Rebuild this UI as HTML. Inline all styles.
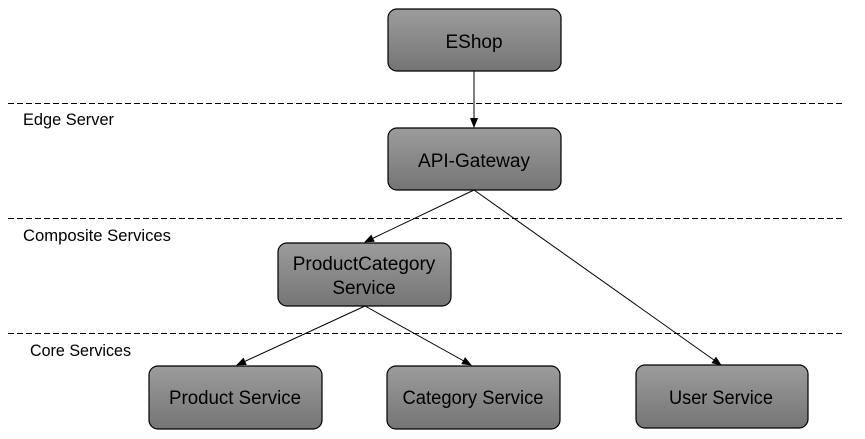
<!DOCTYPE html>
<html><head><meta charset="utf-8"><style>
html,body{margin:0;padding:0;background:#fff;width:865px;height:439px;overflow:hidden}
text{font-family:"Liberation Sans",sans-serif;fill:#000}
</style></head><body>
<svg width="865" height="439" viewBox="0 0 865 439" xmlns="http://www.w3.org/2000/svg">
<defs>
<linearGradient id="g" x1="0" y1="0" x2="0" y2="1">
<stop offset="0" stop-color="#9c9c9c"/><stop offset="1" stop-color="#757575"/>
</linearGradient>
<marker id="a" markerWidth="10" markerHeight="8" refX="9" refY="4" orient="auto" markerUnits="userSpaceOnUse">
<path d="M0,0 L10,4 L0,8 z" fill="#000"/>
</marker>
</defs>
<g stroke="#000" stroke-width="1" stroke-dasharray="6,3">
<line x1="8" y1="103.5" x2="845" y2="103.5"/>
<line x1="8" y1="218.5" x2="845" y2="218.5"/>
<line x1="8" y1="333.5" x2="845" y2="333.5"/>
</g>
<g font-size="16.5">
<text x="23" y="125" textLength="91" lengthAdjust="spacingAndGlyphs">Edge Server</text>
<text x="23" y="241" textLength="148" lengthAdjust="spacingAndGlyphs">Composite Services</text>
<text x="30" y="356" textLength="101" lengthAdjust="spacingAndGlyphs">Core Services</text>
</g>
<g fill="url(#g)" stroke="#000" stroke-width="1.2">
<rect x="388" y="9" width="173" height="62" rx="9"/>
<rect x="388" y="128" width="173" height="62" rx="9"/>
<rect x="278" y="243" width="173" height="63" rx="9"/>
<rect x="149" y="366" width="173" height="63" rx="9"/>
<rect x="387" y="366" width="173" height="63" rx="9"/>
<rect x="636" y="365" width="172" height="63" rx="9"/>
</g>
<g stroke="#000" stroke-width="1" marker-end="url(#a)">
<line x1="474" y1="71" x2="474" y2="127"/>
<line x1="474" y1="190" x2="365" y2="242"/>
<line x1="474" y1="190" x2="721" y2="365"/>
<line x1="365" y1="306" x2="237" y2="365"/>
<line x1="365" y1="306" x2="471" y2="365"/>
</g>
<g font-size="19" text-anchor="middle">
<text x="474" y="48">EShop</text>
<text x="474" y="167">API-Gateway</text>
<text x="364" y="270">ProductCategory</text>
<text x="364" y="294">Service</text>
<text x="235" y="404" textLength="132" lengthAdjust="spacingAndGlyphs">Product Service</text>
<text x="473" y="404" textLength="141" lengthAdjust="spacingAndGlyphs">Category Service</text>
<text x="721" y="404" textLength="104" lengthAdjust="spacingAndGlyphs">User Service</text>
</g>
</svg>
</body></html>
